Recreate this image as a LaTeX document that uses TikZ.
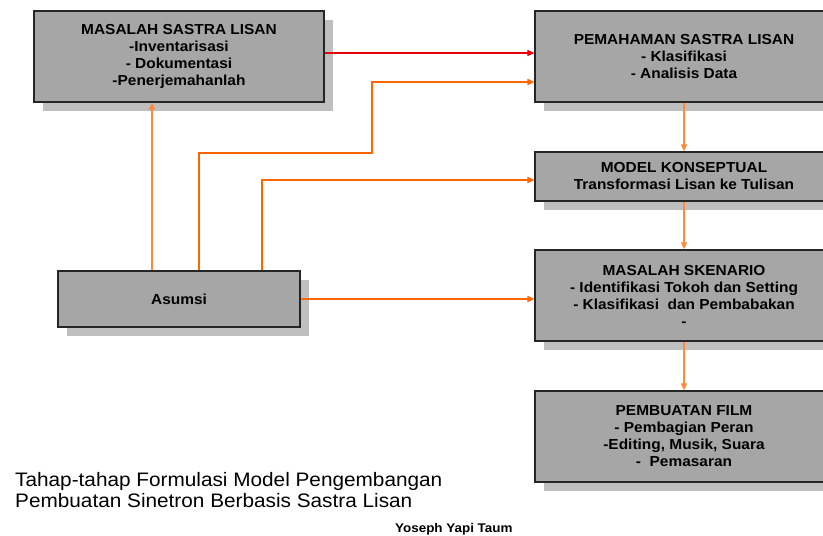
\documentclass[tikz,border=0pt]{standalone}
\usepackage{fontspec}
\setmainfont[FakeStretch=1.065]{Liberation Sans}
\usetikzlibrary{arrows.meta,shadows}
\definecolor{boxgray}{HTML}{A6A6A6}
\definecolor{shadowgray}{HTML}{BFBFBF}
\definecolor{darkorange}{HTML}{FF6600}
\definecolor{lightorange}{HTML}{FF8A3D}
\definecolor{linkred}{HTML}{E8000B}
\begin{document}
\begin{tikzpicture}[x=1pt,y=-1pt,
  stagebox/.style={draw=black!85, line width=1.2pt, fill=boxgray, rectangle,
    align=center, inner sep=0pt,
    font=\fontsize{14.5}{17}\selectfont\bfseries,
    drop shadow={shadow xshift=8.5pt, shadow yshift=-9pt, fill=shadowgray, opacity=1}},
  tip/.style={-{Triangle[length=7pt,width=6pt]}},
  lo/.style={tip, draw=lightorange, line width=1.5pt},
  do/.style={tip, draw=darkorange, line width=2pt},
  rd/.style={tip, draw=linkred, line width=1.2pt}]
\useasboundingbox (0,0) rectangle (823,536);
\clip (0,0) rectangle (823,536);
\fill[white] (0,0) rectangle (823,536);

\node[stagebox, minimum width=290pt, minimum height=91pt] (m1) at (179,56.5)
  {MASALAH SASTRA LISAN\\-Inventarisasi\\- Dokumentasi\\-Penerjemahanlah};
\node[stagebox, minimum width=298pt, minimum height=91pt] (p2) at (684,56.5)
  {PEMAHAMAN SASTRA LISAN\\- Klasifikasi\\- Analisis Data};
\node[stagebox, minimum width=298pt, minimum height=49pt] (k3) at (684,176.5)
  {MODEL KONSEPTUAL\\Transformasi Lisan ke Tulisan};
\node[stagebox, minimum width=298pt, minimum height=91pt] (s4) at (684,295.5)
  {MASALAH SKENARIO\\- Identifikasi Tokoh dan Setting\\- Klasifikasi\ \ dan Pembabakan\\-};
\node[stagebox, minimum width=298pt, minimum height=91pt] (f5) at (684,436.5)
  {PEMBUATAN FILM\\- Pembagian Peran\\-Editing, Musik, Suara\\-\ \ Pemasaran};
\node[stagebox, minimum width=242pt, minimum height=56pt] (a) at (179,299)
  {Asumsi};

\draw[rd] (m1.east |- 0,53) -- (p2.west |- 0,53);
\draw[lo] (a.north -| 152,0) -- (m1.south -| 152,0);
\draw[do] (a.north -| 199,0) -- (199,153) -- (372,153) -- (372,82) -- (p2.west |- 0,82);
\draw[do] (a.north -| 262,0) |- (k3.west |- 0,180);
\draw[do] (a.east) -- (s4.west |- a.east);
\draw[lo] (p2.south) -- (k3.north);
\draw[lo] (k3.south) -- (s4.north);
\draw[lo] (s4.south) -- (f5.north);

\node[anchor=base west, inner sep=0pt, font=\fontsize{19.5}{21}\selectfont] (cap1) at (15,486)
  {Tahap-tahap Formulasi Model Pengembangan};
\node[anchor=base west, inner sep=0pt, font=\fontsize{19.5}{21}\selectfont] (cap2) at (15,507)
  {Pembuatan Sinetron Berbasis Sastra Lisan};
\node[anchor=base west, inner sep=0pt, font=\fontsize{12.6}{14}\selectfont\bfseries] (auth) at (395,532)
  {Yoseph Yapi Taum};
\end{tikzpicture}
\end{document}
